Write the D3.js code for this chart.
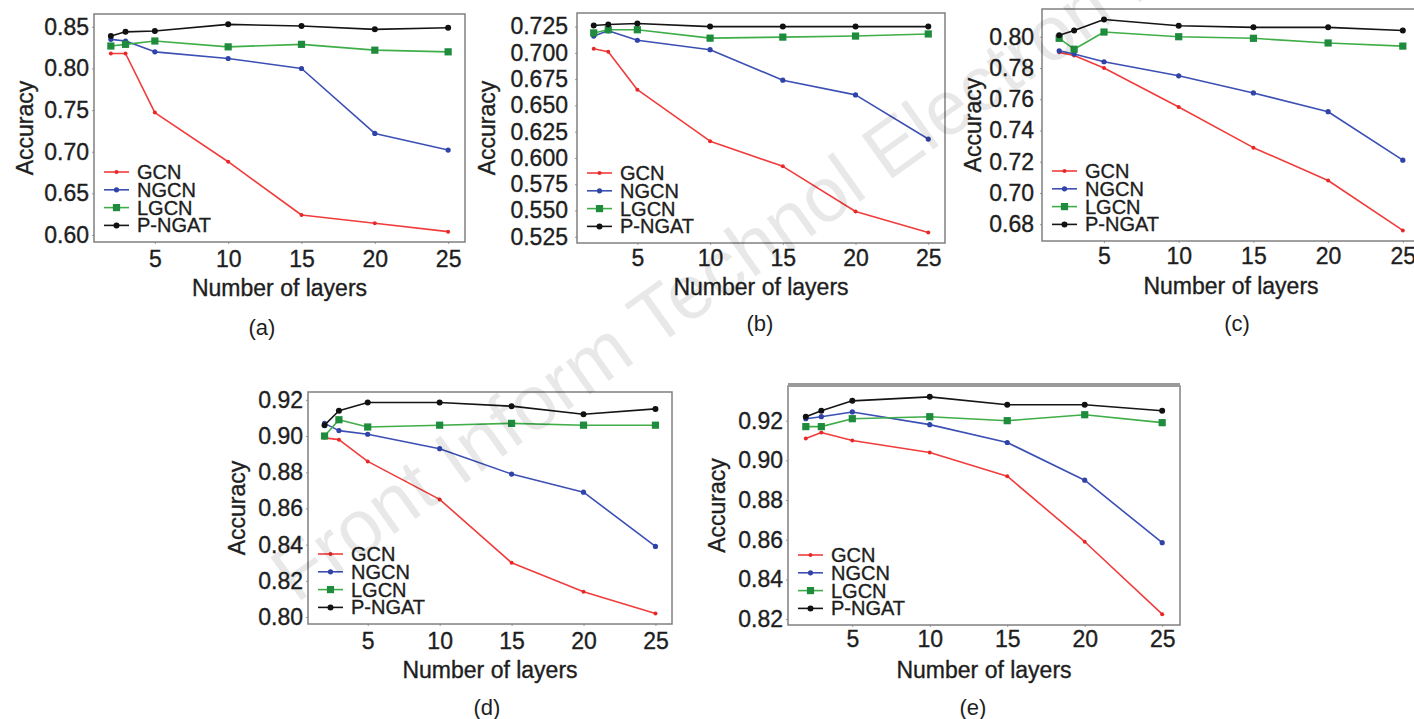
<!DOCTYPE html>
<html lang="en">
<head>
  <meta charset="UTF-8">
  <title>Accuracy vs number of layers</title>
  <script src="https://cdn.jsdelivr.net/npm/d3@7"></script>
  <style>
    body { margin: 0; background: #fff; }
    text { font-family: "Liberation Sans", Arial, sans-serif; fill: #1e1e1e; }
  </style>
</head>
<body>
<div id="chart"></div>
<script>
// ---- data ----
const layers = [2, 3, 5, 10, 15, 20, 25];
const seriesNames = ["GCN", "NGCN", "LGCN", "P-NGAT"];
const xTicks = [5, 10, 15, 20, 25];
const captions = ["(a)", "(b)", "(c)", "(d)", "(e)"];

// (a)
const gcnA   = [0.818, 0.818, 0.747, 0.688, 0.624, 0.614, 0.604];
const ngcnA  = [0.835, 0.833, 0.820, 0.812, 0.800, 0.722, 0.702];
const lgcnA  = [0.827, 0.829, 0.833, 0.826, 0.829, 0.822, 0.820];
const pngatA = [0.839, 0.844, 0.845, 0.853, 0.851, 0.847, 0.849];
const yTicksA = [0.60, 0.65, 0.70, 0.75, 0.80, 0.85];

// (b)
const gcnB   = [0.704, 0.701, 0.665, 0.616, 0.592, 0.549, 0.529];
const ngcnB  = [0.716, 0.721, 0.712, 0.703, 0.674, 0.660, 0.618];
const lgcnB  = [0.719, 0.722, 0.722, 0.714, 0.715, 0.716, 0.718];
const pngatB = [0.726, 0.727, 0.728, 0.725, 0.725, 0.725, 0.725];
const yTicksB = [0.525, 0.550, 0.575, 0.600, 0.625, 0.650, 0.675, 0.700, 0.725];

// (c)
const gcnC   = [0.790, 0.788, 0.780, 0.755, 0.729, 0.708, 0.676];
const ngcnC  = [0.791, 0.789, 0.784, 0.775, 0.764, 0.752, 0.721];
const lgcnC  = [0.799, 0.792, 0.803, 0.800, 0.799, 0.796, 0.794];
const pngatC = [0.801, 0.804, 0.811, 0.807, 0.806, 0.806, 0.804];
const yTicksC = [0.68, 0.70, 0.72, 0.74, 0.76, 0.78, 0.80];

// (d)
const gcnD   = [0.899, 0.898, 0.886, 0.865, 0.830, 0.814, 0.802];
const ngcnD  = [0.907, 0.903, 0.901, 0.893, 0.879, 0.869, 0.839];
const lgcnD  = [0.900, 0.909, 0.905, 0.906, 0.907, 0.906, 0.906];
const pngatD = [0.906, 0.914, 0.9185, 0.9185, 0.9165, 0.912, 0.915];
const yTicksD = [0.80, 0.82, 0.84, 0.86, 0.88, 0.90, 0.92];

// (e)
const gcnE   = [0.911, 0.914, 0.910, 0.904, 0.892, 0.859, 0.8225];
const ngcnE  = [0.921, 0.922, 0.9244, 0.918, 0.909, 0.890, 0.8585];
const lgcnE  = [0.917, 0.917, 0.921, 0.922, 0.920, 0.923, 0.919];
const pngatE = [0.922, 0.925, 0.930, 0.932, 0.928, 0.928, 0.925];
const yTicksE = [0.82, 0.84, 0.86, 0.88, 0.90, 0.92];

// ---- layout / style ----
const W = 1414, H = 719;

const panels = [
  { series: [gcnA, ngcnA, lgcnA, pngatA], ticks: yTicksA, dec: 2,
    box: [94, 14, 465, 242], yLabX: 89, yTitleX: 25, xTickY: 268, xTitleY: 296, cap: [262, 335] },
  { series: [gcnB, ngcnB, lgcnB, pngatB], ticks: yTicksB, dec: 3,
    box: [577, 13, 945, 243], yLabX: 568, yTitleX: 487, xTickY: 267, xTitleY: 295, cap: [760, 331] },
  { series: [gcnC, ngcnC, lgcnC, pngatC], ticks: yTicksC, dec: 2,
    box: [1042, 9, 1420, 241], yLabX: 1034, yTitleX: 973, xTickY: 265, xTitleY: 294, cap: [1237, 331] },
  { series: [gcnD, ngcnD, lgcnD, pngatD], ticks: yTicksD, dec: 2,
    box: [308, 392, 672, 624], yLabX: 303, yTitleX: 237, xTickY: 650, xTitleY: 678, cap: [487, 715] },
  { series: [gcnE, ngcnE, lgcnE, pngatE], ticks: yTicksE, dec: 2,
    box: [788, 386, 1180, 625], yLabX: 783, yTitleX: 717, xTickY: 648, xTitleY: 678, cap: [973, 715], thickTop: true }
];

const styles = [
  { line: "#f03c3c", fill: "#e82828", shape: "dot", r: 2 },
  { line: "#3b4fb4", fill: "#2f43a8", shape: "dot", r: 2.6 },
  { line: "#3fae48", fill: "#1e8c3c", shape: "square", r: 3.6 },
  { line: "#151515", fill: "#111111", shape: "dot", r: 3 }
];

const svg = d3.select("#chart").append("svg")
  .attr("width", W)
  .attr("height", H);

function drawMarker (g, st, x, y) {
  if (st.shape === "square") {
    g.append("rect")
      .attr("x", x - st.r).attr("y", y - st.r)
      .attr("width", st.r * 2).attr("height", st.r * 2)
      .attr("fill", st.fill);
  } else {
    g.append("circle")
      .attr("cx", x).attr("cy", y).attr("r", st.r)
      .attr("fill", st.fill);
  }
}

// text a bit heavier, like the blurred scan
function ink (sel) {
  sel.attr("stroke", "#1e1e1e").attr("stroke-width", 0.35);
}

panels.forEach((p, pi) => {
  const [x0, y0, x1, y1] = p.box;
  const g = svg.append("g");

  // ggplot-like 5% expansion of the data range
  const xs = d3.extent(layers);
  const xPad = (xs[1] - xs[0]) * 0.05;
  const x = d3.scaleLinear().domain([xs[0] - xPad, xs[1] + xPad]).range([x0, x1]);

  const ys = d3.extent(p.series.flat());
  const yPad = (ys[1] - ys[0]) * 0.05;
  const y = d3.scaleLinear().domain([ys[0] - yPad, ys[1] + yPad]).range([y1, y0]);

  const yAxis = d3.axisLeft(y)
    .tickValues(p.ticks)
    .tickSize(2)
    .tickPadding(x0 - p.yLabX - 2)
    .tickFormat(d3.format("." + p.dec + "f"));
  const yG = g.append("g").attr("transform", `translate(${x0},0)`).call(yAxis);

  const xAxis = d3.axisBottom(x)
    .tickValues(xTicks)
    .tickSize(2)
    .tickPadding(p.xTickY - y1 - 2 - 17);
  const xG = g.append("g").attr("transform", `translate(0,${y1})`).call(xAxis);

  [yG, xG].forEach(a => {
    a.select(".domain").remove();
    a.selectAll(".tick line").attr("stroke", "#999").attr("stroke-width", 1);
    a.selectAll(".tick text")
      .attr("font-size", 23)
      .attr("font-family", "'Liberation Sans', Arial, sans-serif")
      .attr("fill", "#1e1e1e")
      .call(ink);
  });

  // series
  const line = d3.line().x((d, i) => x(layers[i])).y(d => y(d));
  p.series.forEach((vals, si) => {
    const st = styles[si];
    g.append("path")
      .attr("d", line(vals))
      .attr("fill", "none")
      .attr("stroke", st.line)
      .attr("stroke-width", 1.6)
      .attr("stroke-linejoin", "round");
    vals.forEach((v, i) => drawMarker(g, st, x(layers[i]), y(v)));
  });

  // frame
  g.append("rect")
    .attr("x", x0).attr("y", y0)
    .attr("width", x1 - x0).attr("height", y1 - y0)
    .attr("fill", "none")
    .attr("stroke", "#808080")
    .attr("stroke-width", 1.5);
  if (p.thickTop) {
    g.append("line")
      .attr("x1", x0).attr("x2", x1)
      .attr("y1", y0 - 1).attr("y2", y0 - 1)
      .attr("stroke", "#9a9a9a")
      .attr("stroke-width", 4);
  }

  // legend
  const lx = x0 + 10, ly = y1 - 70;
  seriesNames.forEach((name, si) => {
    const st = styles[si];
    const yy = ly + si * 17.8;
    g.append("line")
      .attr("x1", lx).attr("x2", lx + 25)
      .attr("y1", yy).attr("y2", yy)
      .attr("stroke", st.line).attr("stroke-width", 1.6);
    drawMarker(g, st, lx + 12.5, yy);
    g.append("text")
      .attr("x", lx + 33).attr("y", yy + 7)
      .attr("font-size", 20)
      .text(name)
      .call(ink);
  });

  // titles
  g.append("text")
    .attr("x", (x0 + Math.min(x1, W)) / 2 + (x1 > W ? 3 : 0))
    .attr("y", p.xTitleY)
    .attr("text-anchor", "middle")
    .attr("font-size", 23)
    .text("Number of layers")
    .call(ink);
  g.append("text")
    .attr("transform", `translate(${p.yTitleX + 8},${(y0 + y1) / 2}) rotate(-90)`)
    .attr("text-anchor", "middle")
    .attr("font-size", 23)
    .text("Accuracy")
    .call(ink);
  g.append("text")
    .attr("x", p.cap[0]).attr("y", p.cap[1])
    .attr("text-anchor", "middle")
    .attr("font-size", 22)
    .text(captions[pi]);
});

// faint diagonal watermark
svg.append("text")
  .attr("transform", "translate(296,604) rotate(-35.5)")
  .attr("font-size", 77)
  .style("fill", "#000")
  .style("fill-opacity", 0.09)
  .text("Front Inform Technol Electron Eng");
</script>
</body>
</html>
